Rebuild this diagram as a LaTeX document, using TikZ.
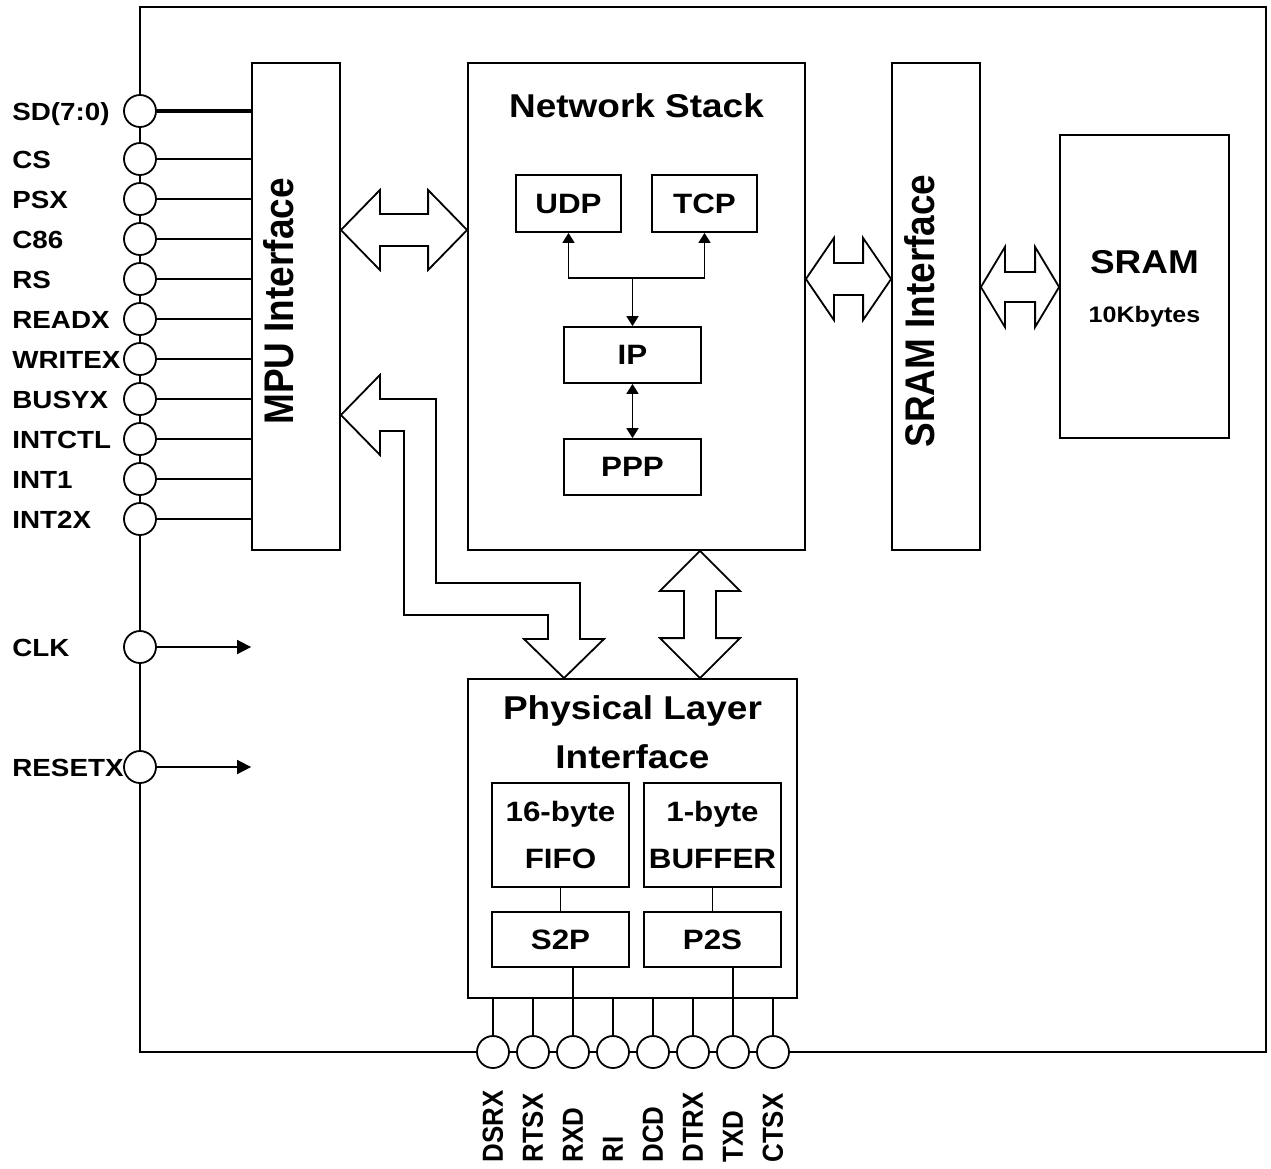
\documentclass[tikz,border=0pt]{standalone}
\usepackage{fontspec}
\setmainfont{Liberation Sans}[FakeStretch=1.12]
\newfontfamily\rotfont{Liberation Sans}[FakeStretch=0.893]
\usetikzlibrary{positioning,arrows.meta,calc}

% block arrows: #1/#2 tips, #3 head length, #4 head half width, #5 shaft half width
\newcommand\hbiarrow[5]{%
  \draw[barrow] (#1) -- ($(#1)+(#3,-#4)$) -- ($(#1)+(#3,-#5)$) -- ($(#2)+(-#3,-#5)$)
    -- ($(#2)+(-#3,-#4)$) -- (#2) -- ($(#2)+(-#3,#4)$) -- ($(#2)+(-#3,#5)$)
    -- ($(#1)+(#3,#5)$) -- ($(#1)+(#3,#4)$) -- cycle;}
\newcommand\vbiarrow[5]{%
  \draw[barrow] (#1) -- ($(#1)+(#4,#3)$) -- ($(#1)+(#5,#3)$) -- ($(#2)+(#5,-#3)$)
    -- ($(#2)+(#4,-#3)$) -- (#2) -- ($(#2)+(-#4,-#3)$) -- ($(#2)+(-#5,-#3)$)
    -- ($(#1)+(-#5,#3)$) -- ($(#1)+(-#4,#3)$) -- cycle;}

\tikzset{
  blk/.style={draw, line width=0.9pt, inner sep=0pt},
  pinc/.style={circle, draw, fill=white, line width=0.9pt, minimum size=16pt, inner sep=0pt},
  bigtxt/.style={font=\bfseries\fontsize{16.5pt}{24.5pt}\selectfont, inner sep=0pt},
  rottxt/.style={font=\rotfont\bfseries\fontsize{20.7pt}{24pt}\selectfont, inner sep=0pt, rotate=90},
  midtxt/.style={font=\bfseries\fontsize{14pt}{23.5pt}\selectfont},
  smltxt/.style={font=\bfseries\fontsize{11.2pt}{14pt}\selectfont, inner sep=0pt},
  pintxt/.style={font=\bfseries\fontsize{12.4pt}{15pt}\selectfont, inner sep=0pt, anchor=base west},
  bpintxt/.style={font=\rotfont\bfseries\fontsize{14.5pt}{16pt}\selectfont, inner sep=0pt, rotate=90, anchor=west},
  barrow/.style={draw, line width=0.9pt, fill=white, line join=miter},
  wire/.style={line width=0.9pt},
  tip/.style={wire, -{Triangle[length=5pt,width=6pt]}},
  tips/.style={wire, {Triangle[length=5pt,width=6pt]}-{Triangle[length=5pt,width=6pt]}},
  ctip/.style={wire, -{Triangle[length=7pt,width=7pt]}},
}

\begin{document}
\begin{tikzpicture}[x=0.5pt, y=-0.5pt]
\useasboundingbox (0,0) rectangle (1271,1169);

% chip outline
\draw[wire] (140,7) rectangle (1266,1052);

% main blocks
\node[blk, minimum width=44pt, minimum height=243.5pt] (mpu) at (296,306.5) {};
\node[rottxt] (mput) at (279,301.5) {MPU Interface};
\node[blk, minimum width=168.5pt, minimum height=243.5pt] (ns) at (636.5,306.5) {};
\node[bigtxt, anchor=base] (nst) at (636.5,117) {Network Stack};
\node[blk, minimum width=44pt, minimum height=243.5pt] (sramif) at (936,306.5) {};
\node[rottxt] (sramift) at (920,311) {SRAM Interface};
\node[blk, minimum width=84.5pt, minimum height=151.5pt] (sram) at (1144.5,286.5) {};
\node[bigtxt, anchor=base] (sramt) at (1144.5,273) {SRAM};
\node[smltxt, anchor=base] (sramk) at (1144.5,322) {10Kbytes};

% protocol stack
\node[blk, midtxt, minimum width=52.5pt, minimum height=28.5pt] (udp) at (568.5,203.5) {UDP};
\node[blk, midtxt, minimum width=52.5pt, minimum height=28.5pt] (tcp) at (704.5,203.5) {TCP};
\node[blk, midtxt, minimum width=68.5pt, minimum height=28pt] (ip) at (632.5,355) {IP};
\node[blk, midtxt, minimum width=68.5pt, minimum height=28pt] (ppp) at (632.5,467) {PPP};
\coordinate (jn) at (ip.north |- 0,278);
\draw[tip] (jn) -| (udp.south);
\draw[tip] (jn) -| (tcp.south);
\draw[tip] (jn) -- (ip.north);
\draw[tips] (ip.south) -- (ppp.north);

% physical layer
\node[blk, minimum width=164.5pt, minimum height=159.5pt] (phy) at (632.5,838.5) {};
\node[bigtxt, align=center] (phyt) at (632.5,732) {Physical Layer\\Interface};
\node[blk, midtxt, align=center, minimum width=68.5pt, minimum height=52pt] (fifo) at (560.5,835) {16-byte\\FIFO};
\node[blk, midtxt, align=center, minimum width=68.5pt, minimum height=52pt] (buf) at (712.5,835) {1-byte\\BUFFER};
\node[blk, midtxt, minimum width=68.5pt, minimum height=27.5pt] (s2p) at (560.5,939.5) {S2P};
\node[blk, midtxt, minimum width=68.5pt, minimum height=27.5pt] (p2s) at (712.5,939.5) {P2S};
\draw[wire] (fifo.south) -- (s2p.north);
\draw[wire] (buf.south) -- (p2s.north);

% bus arrows
\hbiarrow{mpu.east |- 0,230}{ns.west |- 0,230}{39}{40}{16}
\hbiarrow{ns.east |- 0,279}{sramif.west |- 0,279}{28}{41}{16}
\hbiarrow{sramif.east |- 0,287}{sram.west |- 0,287}{24}{40}{15}
\vbiarrow{ns.south -| 700,0}{phy.north -| 700,0}{40}{40}{16}
\draw[barrow] (mpu.east |- 0,415) -- ++(39,-40) -- ++(0,24) -- (436,399) -- (436,583)
  -- (580,583) -- (580,639) -- (604,639) -- (phy.north -| 564,0) -- (524,639)
  -- (548,639) -- (548,615) -- (404,615) -- (404,431) -- (380,431) -- (380,455) -- cycle;

% MPU side pins
\node[pinc] (sd) at (140,111) {};
\node[pintxt] (sd-l) at (12,120) {SD(7:0)};
\draw[line width=1.6pt] (sd.east) -- (sd.east -| mpu.west);
\foreach \nm/\yy/\lbl in {cs/159/CS, psx/199/PSX, c86/239/C86, rs/279/RS,
    readx/319/READX, writex/359/WRITEX, busyx/399/BUSYX, intctl/439/INTCTL,
    int1/479/INT1, int2x/519/INT2X}{
  \node[pinc] (\nm) at (140,\yy) {};
  \node[pintxt] (\nm-l) at (12,\yy+9) {\lbl};
  \draw[wire] (\nm.east) -- (\nm.east -| mpu.west);
}
\node[pinc] (clk) at (140,647) {};
\node[pintxt] (clk-l) at (12,656) {CLK};
\draw[ctip] (clk.east) -- (clk.east -| mpu.west);
\node[pinc] (rst) at (140,767) {};
\node[pintxt] (rst-l) at (12,776) {RESETX};
\draw[ctip] (rst.east) -- (rst.east -| mpu.west);

% serial pins
\foreach \nm/\xx in {DSRX/493, RTSX/533, RXD/573, RI/613, DCD/653, DTRX/693, TXD/733, CTSX/773}{
  \node[pinc] (\nm) at (\xx,1052) {};
  \node[bpintxt] (\nm-l) at (\xx,1163) {\nm};
  \draw[wire] (\nm.north) -- (\nm.north |- phy.south);
}
\draw[wire] (RXD.north) -- (RXD.north |- s2p.south);
\draw[wire] (TXD.north) -- (TXD.north |- p2s.south);
\end{tikzpicture}
\end{document}
